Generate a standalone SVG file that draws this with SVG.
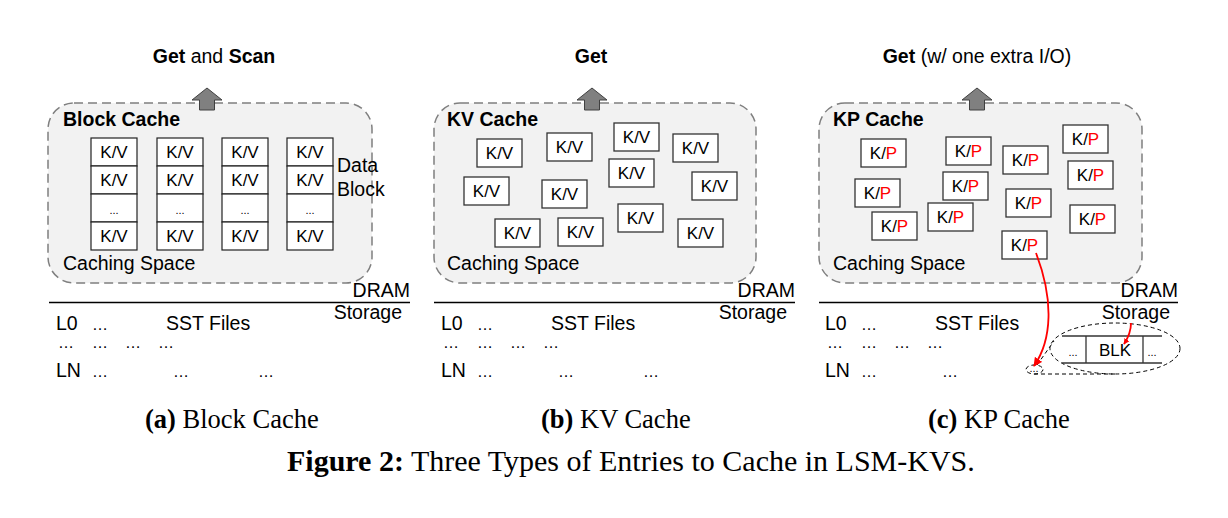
<svg xmlns="http://www.w3.org/2000/svg" width="1228" height="518" viewBox="0 0 1228 518">
<style>
.bg{fill:#fff}
.space{fill:#f2f2f2;stroke:#7f7f7f;stroke-width:1.5;stroke-dasharray:9 5}
.up{fill:#808080;stroke:#404040;stroke-width:1}
.cell{fill:#fff;stroke:#222;stroke-width:1.2}
.box{fill:#fff;stroke:#333;stroke-width:1.3}
.t{font-family:"Liberation Sans",Arial,sans-serif;font-size:19.5px;fill:#000}
.b{font-weight:bold}
.kv{font-family:"Liberation Sans",Arial,sans-serif;font-size:17px;fill:#000;text-anchor:middle}
.dots{font-family:"Liberation Sans",Arial,sans-serif;font-size:16px;fill:#000}
.sm{font-family:"Liberation Sans",Arial,sans-serif;font-size:11px;fill:#000;text-anchor:middle}
.red{fill:#ff0000}
.cap{font-family:"Liberation Serif","Times New Roman",serif;font-size:26.5px;fill:#000}
.fig{font-family:"Liberation Serif","Times New Roman",serif;font-size:30px;fill:#000}
.line{stroke:#000;stroke-width:1.5}
.dash{fill:none;stroke:#000;stroke-width:1;stroke-dasharray:4 3}
.strip{stroke:#333;stroke-width:1.3}
.rc{fill:none;stroke:#ff0000;stroke-width:1.8}
</style>
<defs>
<marker id="ra" viewBox="0 0 10 10" refX="9" refY="5" markerWidth="6" markerHeight="6" orient="auto" markerUnits="userSpaceOnUse">
<path d="M0,0 L10,5 L0,10 z" fill="#ff0000"/>
</marker>
<marker id="ra2" viewBox="0 0 10 10" refX="9" refY="5" markerWidth="9" markerHeight="9" orient="auto" markerUnits="userSpaceOnUse">
<path d="M0,0 L10,5 L0,10 z" fill="#ff0000"/>
</marker>
</defs>
<rect class="bg" x="0" y="0" width="1228" height="518"/>

<!-- Panel (a) -->
<g id="panel-a">
<g id="a-space">
<rect class="space" x="48" y="103" width="324" height="180" rx="26"/>
<polygon class="up" points="207,88 222,100 214.5,100 214.5,110 199.5,110 199.5,100 192,100"/>
</g>
<text class="t b" x="214" y="63" text-anchor="middle">Get<tspan font-weight="normal"> and </tspan>Scan</text>
<text class="t b" x="63" y="126">Block Cache</text>
<g id="a-block1">
<rect class="cell" x="91" y="138" width="46" height="28"/><text class="kv" x="114" y="158">K/V</text>
<rect class="cell" x="91" y="166" width="46" height="28"/><text class="kv" x="114" y="186">K/V</text>
<rect class="cell" x="91" y="194" width="46" height="28"/><text class="sm" x="114" y="214">...</text>
<rect class="cell" x="91" y="222" width="46" height="28"/><text class="kv" x="114" y="242">K/V</text>
</g>
<g id="a-block2">
<rect class="cell" x="157" y="138" width="46" height="28"/><text class="kv" x="180" y="158">K/V</text>
<rect class="cell" x="157" y="166" width="46" height="28"/><text class="kv" x="180" y="186">K/V</text>
<rect class="cell" x="157" y="194" width="46" height="28"/><text class="sm" x="180" y="214">...</text>
<rect class="cell" x="157" y="222" width="46" height="28"/><text class="kv" x="180" y="242">K/V</text>
</g>
<g id="a-block3">
<rect class="cell" x="222" y="138" width="46" height="28"/><text class="kv" x="245" y="158">K/V</text>
<rect class="cell" x="222" y="166" width="46" height="28"/><text class="kv" x="245" y="186">K/V</text>
<rect class="cell" x="222" y="194" width="46" height="28"/><text class="sm" x="245" y="214">...</text>
<rect class="cell" x="222" y="222" width="46" height="28"/><text class="kv" x="245" y="242">K/V</text>
</g>
<g id="a-block4">
<rect class="cell" x="287" y="138" width="46" height="28"/><text class="kv" x="310" y="158">K/V</text>
<rect class="cell" x="287" y="166" width="46" height="28"/><text class="kv" x="310" y="186">K/V</text>
<rect class="cell" x="287" y="194" width="46" height="28"/><text class="sm" x="310" y="214">...</text>
<rect class="cell" x="287" y="222" width="46" height="28"/><text class="kv" x="310" y="242">K/V</text>
</g>
<text class="t" x="337" y="172">Data</text>
<text class="t" x="337" y="196">Block</text>
<text class="t" x="63" y="270">Caching Space</text>
<line class="line" x1="49" y1="302.5" x2="410" y2="302.5"/>
<text class="t" x="410" y="297" text-anchor="end">DRAM</text>
<text class="t" x="402" y="319" text-anchor="end">Storage</text>
<g id="a-sst">
<text class="t" x="56" y="330">L0</text><text class="dots" x="92" y="330">…</text><text class="t" x="166" y="330">SST Files</text>
<text class="dots" x="58" y="348">…</text><text class="dots" x="92" y="348">…</text><text class="dots" x="125" y="348">…</text><text class="dots" x="158" y="348">…</text>
<text class="t" x="56" y="377">LN</text><text class="dots" x="92" y="377">…</text><text class="dots" x="173" y="377">…</text><text class="dots" x="258" y="377">…</text>
</g>
</g>

<!-- Panel (b) -->
<g id="panel-b">
<g id="b-space">
<rect class="space" x="434" y="103" width="322" height="180" rx="26"/>
<polygon class="up" points="592,88 607,100 599.5,100 599.5,110 584.5,110 584.5,100 577,100"/>
</g>
<text class="t b" x="591" y="63" text-anchor="middle">Get</text>
<text class="t b" x="447" y="126">KV Cache</text>
<g id="b-kv1"><rect class="box" x="477" y="139" width="45" height="28"/><text class="kv" x="499.5" y="159">K/V</text></g>
<g id="b-kv2"><rect class="box" x="547" y="133" width="45" height="28"/><text class="kv" x="569.5" y="153">K/V</text></g>
<g id="b-kv3"><rect class="box" x="614" y="123" width="45" height="28"/><text class="kv" x="636.5" y="143">K/V</text></g>
<g id="b-kv4"><rect class="box" x="673" y="134" width="45" height="28"/><text class="kv" x="695.5" y="154">K/V</text></g>
<g id="b-kv5"><rect class="box" x="609" y="159" width="45" height="28"/><text class="kv" x="631.5" y="179">K/V</text></g>
<g id="b-kv6"><rect class="box" x="464" y="177" width="45" height="28"/><text class="kv" x="486.5" y="197">K/V</text></g>
<g id="b-kv7"><rect class="box" x="542" y="180" width="45" height="28"/><text class="kv" x="564.5" y="200">K/V</text></g>
<g id="b-kv8"><rect class="box" x="692" y="172" width="45" height="28"/><text class="kv" x="714.5" y="192">K/V</text></g>
<g id="b-kv9"><rect class="box" x="618" y="204" width="45" height="28"/><text class="kv" x="640.5" y="224">K/V</text></g>
<g id="b-kv10"><rect class="box" x="495" y="219" width="45" height="28"/><text class="kv" x="517.5" y="239">K/V</text></g>
<g id="b-kv11"><rect class="box" x="558" y="218" width="45" height="28"/><text class="kv" x="580.5" y="238">K/V</text></g>
<g id="b-kv12"><rect class="box" x="678" y="219" width="45" height="28"/><text class="kv" x="700.5" y="239">K/V</text></g>
<text class="t" x="447" y="270">Caching Space</text>
<line class="line" x1="434" y1="302.5" x2="795" y2="302.5"/>
<text class="t" x="795" y="297" text-anchor="end">DRAM</text>
<text class="t" x="787" y="319" text-anchor="end">Storage</text>
<g id="b-sst">
<text class="t" x="441" y="330">L0</text><text class="dots" x="477" y="330">…</text><text class="t" x="551" y="330">SST Files</text>
<text class="dots" x="443" y="348">…</text><text class="dots" x="477" y="348">…</text><text class="dots" x="510" y="348">…</text><text class="dots" x="543" y="348">…</text>
<text class="t" x="441" y="377">LN</text><text class="dots" x="477" y="377">…</text><text class="dots" x="558" y="377">…</text><text class="dots" x="643" y="377">…</text>
</g>
</g>

<!-- Panel (c) -->
<g id="panel-c">
<g id="c-space">
<rect class="space" x="819" y="103" width="323" height="180" rx="26"/>
<polygon class="up" points="977,88 992,100 984.5,100 984.5,110 969.5,110 969.5,100 962,100"/>
</g>
<text class="t b" x="977" y="63" text-anchor="middle">Get<tspan font-weight="normal"> (w/ one extra I/O)</tspan></text>
<text class="t b" x="833" y="126">KP Cache</text>
<g id="c-kp1"><rect class="box" x="861" y="139" width="45" height="28"/><text class="kv" x="883.5" y="159">K/<tspan class="red">P</tspan></text></g>
<g id="c-kp2"><rect class="box" x="946" y="137" width="45" height="28"/><text class="kv" x="968.5" y="157">K/<tspan class="red">P</tspan></text></g>
<g id="c-kp3"><rect class="box" x="1003" y="146" width="45" height="28"/><text class="kv" x="1025.5" y="166">K/<tspan class="red">P</tspan></text></g>
<g id="c-kp4"><rect class="box" x="1063" y="125" width="45" height="28"/><text class="kv" x="1085.5" y="145">K/<tspan class="red">P</tspan></text></g>
<g id="c-kp5"><rect class="box" x="1068" y="161" width="45" height="28"/><text class="kv" x="1090.5" y="181">K/<tspan class="red">P</tspan></text></g>
<g id="c-kp6"><rect class="box" x="855" y="179" width="45" height="28"/><text class="kv" x="877.5" y="199">K/<tspan class="red">P</tspan></text></g>
<g id="c-kp7"><rect class="box" x="943" y="172" width="45" height="28"/><text class="kv" x="965.5" y="192">K/<tspan class="red">P</tspan></text></g>
<g id="c-kp8"><rect class="box" x="1006" y="189" width="45" height="28"/><text class="kv" x="1028.5" y="209">K/<tspan class="red">P</tspan></text></g>
<g id="c-kp9"><rect class="box" x="872" y="212" width="45" height="28"/><text class="kv" x="894.5" y="232">K/<tspan class="red">P</tspan></text></g>
<g id="c-kp10"><rect class="box" x="928" y="203" width="45" height="28"/><text class="kv" x="950.5" y="223">K/<tspan class="red">P</tspan></text></g>
<g id="c-kp11"><rect class="box" x="1070" y="205" width="45" height="28"/><text class="kv" x="1092.5" y="225">K/<tspan class="red">P</tspan></text></g>
<g id="c-kp12"><rect class="box" x="1002" y="231" width="45" height="28"/><text class="kv" x="1024.5" y="251">K/<tspan class="red">P</tspan></text></g>
<text class="t" x="833" y="270">Caching Space</text>
<line class="line" x1="819" y1="302.5" x2="1178" y2="302.5"/>
<text class="t" x="1178" y="297" text-anchor="end">DRAM</text>
<text class="t" x="1170" y="319" text-anchor="end">Storage</text>
<g id="c-sst">
<text class="t" x="825" y="330">L0</text><text class="dots" x="861" y="330">…</text><text class="t" x="935" y="330">SST Files</text>
<text class="dots" x="827" y="348">…</text><text class="dots" x="861" y="348">…</text><text class="dots" x="894" y="348">…</text><text class="dots" x="927" y="348">…</text>
<text class="t" x="825" y="377">LN</text><text class="dots" x="861" y="377">…</text><text class="dots" x="942" y="377">…</text>
</g>
<g id="c-target">
<ellipse class="dash" cx="1034.5" cy="369.5" rx="8.5" ry="4.5"/>
<text class="sm" x="1034" y="372" font-size="12">...</text>
</g>
<g id="c-zoom">
<ellipse class="dash" cx="1115" cy="348.5" rx="65" ry="25.5"/>
<line class="strip" x1="1062" y1="336" x2="1162" y2="336"/>
<line class="strip" x1="1062" y1="363" x2="1162" y2="363"/>
<line class="strip" x1="1086" y1="336" x2="1086" y2="363"/>
<line class="strip" x1="1143" y1="336" x2="1143" y2="363"/>
<text class="sm" x="1073" y="356" font-size="13">...</text>
<text class="kv" x="1115" y="356" font-size="14">BLK</text>
<text class="sm" x="1152" y="356" font-size="13">...</text>
</g>
</g>

<g id="connectors">
<line class="dash" x1="1037" y1="365" x2="1054" y2="341"/>
<line class="dash" x1="1034" y1="374" x2="1115" y2="374"/>
<path class="rc" d="M1036,253 C1054,300 1052,340 1034,366" marker-end="url(#ra2)"/>
<path class="rc" d="M1131,323 C1131,332 1128,338 1124,344" marker-end="url(#ra)"/>
</g>

<g id="captions">
<text class="cap" x="145" y="428"><tspan font-weight="bold">(a)</tspan> Block Cache</text>
<text class="cap" x="541" y="428"><tspan font-weight="bold">(b)</tspan> KV Cache</text>
<text class="cap" x="928" y="428"><tspan font-weight="bold">(c)</tspan> KP Cache</text>
<text class="fig" x="287" y="471"><tspan font-weight="bold">Figure 2:</tspan> Three Types of Entries to Cache in LSM-KVS.</text>
</g>
</svg>
